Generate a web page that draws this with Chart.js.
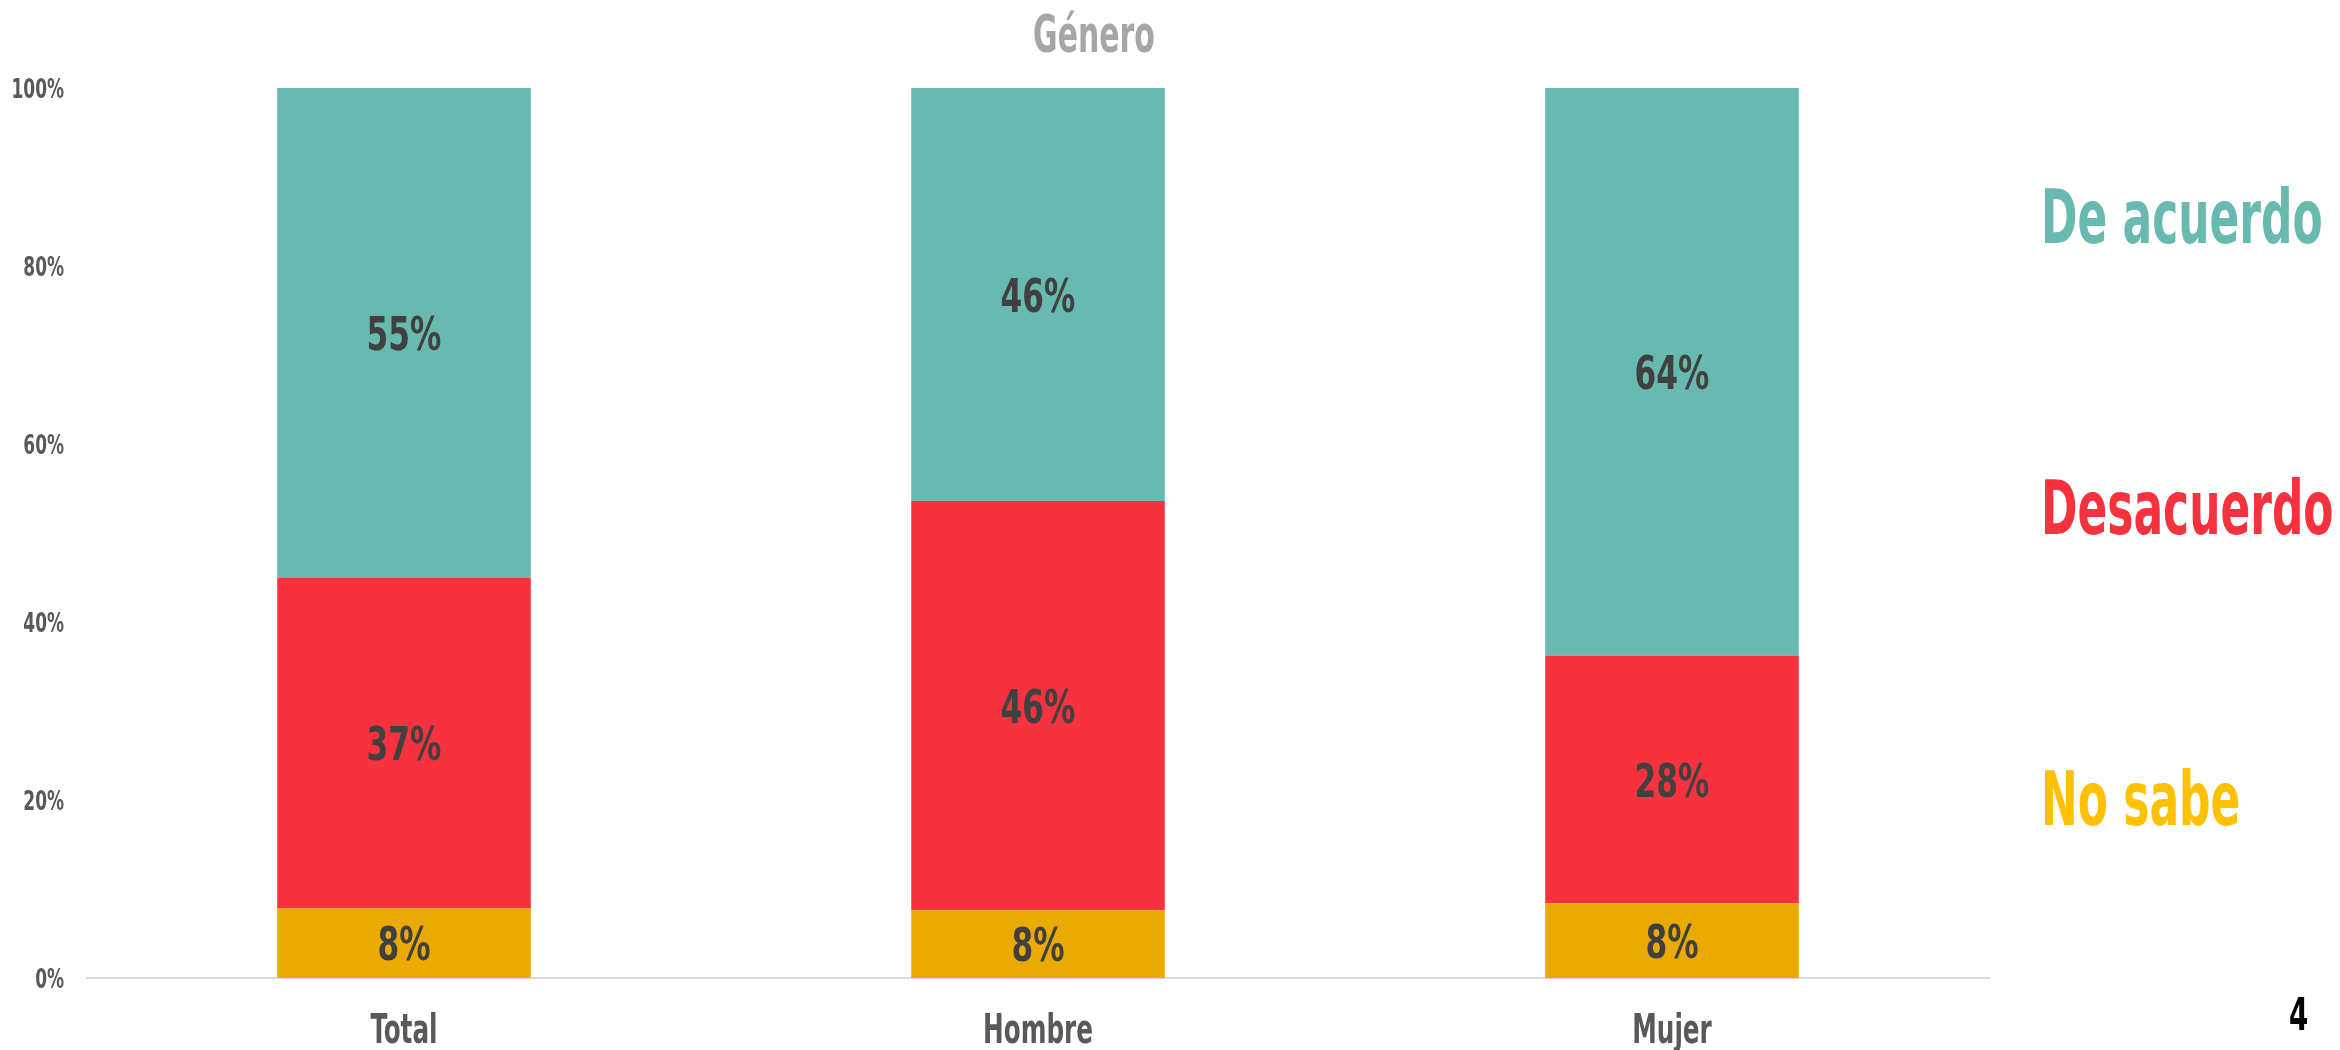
<!DOCTYPE html>
<html>
<head>
<meta charset="utf-8">
<script src="https://cdn.jsdelivr.net/npm/chart.js@4.4.1/dist/chart.umd.min.js"></script>
<style>
  html, body { margin: 0; padding: 0; background: #fff; }
</style>
</head>
<body>
<canvas id="mainChart" width="2340" height="1050"></canvas>
<script>
const ctx = document.getElementById("mainChart");

const categories = ["Total", "Hombre", "Mujer"];
const noSabe = [7.8, 7.6, 8.4];
const desacuerdo = [37.2, 46, 27.8];
const deAcuerdo = [55, 46.4, 63.8];
const yTicks = [0, 20, 40, 60, 80, 100];

const FONT = "'DejaVu Sans Condensed', 'DejaVu Sans', sans-serif";
const CAP = 0.729; // cap height of DejaVu, in em

/* condensed bold text, like the narrow font in the original */
function narrowText(c, str, x, y, size, color, align, squeeze) {
  c.save();
  c.font = "bold " + size + "px " + FONT;
  c.fillStyle = color;
  c.textBaseline = "alphabetic";
  c.textAlign = align;
  c.translate(x, y);
  c.scale(squeeze, 1);
  c.fillText(str, 0, 0);
  c.restore();
}

/* value labels, tick labels, title and side legend */
const textLayer = {
  id: "textLayer",
  afterDatasetsDraw(chart) {
    const c = chart.ctx;
    chart.data.datasets.forEach((ds, i) => {
      chart.getDatasetMeta(i).data.forEach((bar, j) => {
        const mid = (bar.y + bar.base) / 2;
        narrowText(c, Math.round(ds.data[j]) + "%", bar.x, mid + 47 * CAP / 2, 47, "#404040", "center", 0.74);
      });
    });
  },
  afterDraw(chart) {
    const c = chart.ctx;
    const y = chart.scales.y, x = chart.scales.x;
    yTicks.forEach(v => {
      narrowText(c, v + "%", y.right - 23, y.getPixelForValue(v) + 27 * CAP / 2, 27, "#595959", "right", 0.7);
    });
    categories.forEach((lab, i) => {
      narrowText(c, lab, x.getPixelForTick(i), 1043, 41, "#595959", "center", 0.67);
    });
    narrowText(c, "Género", 1094, 52, 52, "#a6a6a6", "center", 0.64);
    narrowText(c, "De acuerdo", 2041, 243, 74, "#68b9b0", "left", 0.66);
    narrowText(c, "Desacuerdo", 2041, 534, 74, "#f6323f", "left", 0.66);
    narrowText(c, "No sabe", 2041, 825, 74, "#ffc000", "left", 0.66);
    narrowText(c, "4", 2289, 1030, 44, "#000000", "left", 0.7);
  }
};

new Chart(ctx, {
  type: "bar",
  data: {
    labels: categories,
    datasets: [
      { label: "No sabe", data: noSabe, backgroundColor: "#ebaa00" },
      { label: "Desacuerdo", data: desacuerdo, backgroundColor: "#f6323f" },
      { label: "De acuerdo", data: deAcuerdo, backgroundColor: "#68b9b0" }
    ]
  },
  options: {
    responsive: false,
    animation: false,
    categoryPercentage: 0.4,
    barPercentage: 1,
    layout: { padding: { left: 0, right: 351, top: 88, bottom: 0 } },
    plugins: {
      legend: { display: false },
      tooltip: { enabled: false }
    },
    scales: {
      x: {
        stacked: true,
        grid: { display: false, drawTicks: false },
        border: { color: "#d9d9d9", width: 2 },
        ticks: { display: false },
        afterFit(s) { s.height = 72; }
      },
      y: {
        stacked: true,
        min: 0,
        max: 100,
        afterBuildTicks(s) { s.ticks = yTicks.map(v => ({ value: v })); },
        grid: { display: false, drawTicks: false },
        border: { display: false },
        ticks: { display: false },
        afterFit(s) { s.width = 87; }
      }
    }
  },
  plugins: [textLayer]
});
</script>
</body>
</html>
